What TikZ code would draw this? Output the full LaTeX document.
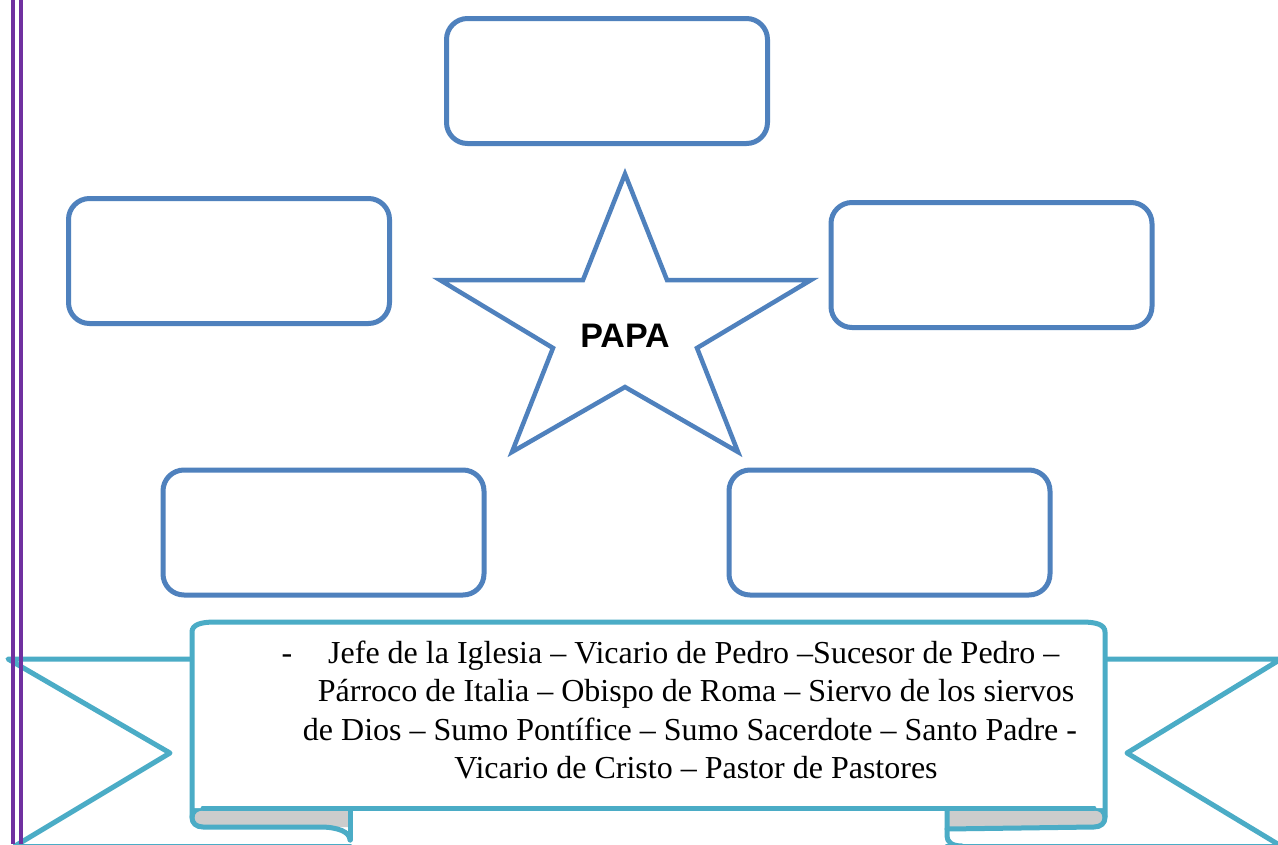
\documentclass[tikz,border=0pt]{standalone}
\usepackage{fontspec}
\setmainfont{Liberation Serif}
\newfontfamily\arialfont{Liberation Sans}
\definecolor{boxblue}{HTML}{4F81BD}
\definecolor{ribteal}{HTML}{4BACC6}
\definecolor{margpurple}{HTML}{7030A0}
\definecolor{foldgray}{HTML}{CCCCCC}
\begin{document}
\begin{tikzpicture}[x=1pt,y=-1pt,
  emptybox/.style={draw=boxblue, line width=5pt, rounded corners=21pt, fill=white,
    minimum width=321pt, minimum height=125pt, inner sep=0pt},
  rib/.style={draw=ribteal, line width=5pt, line cap=round, line join=round},
  startext/.style={font=\arialfont\bfseries\fontsize{34}{40}\selectfont},
  ribtext/.style={font=\fontsize{32}{38}\selectfont, anchor=base, inner sep=0pt}
]
\useasboundingbox (0,0) rectangle (1278,844);
\fill[white] (0,0) rectangle (1278,844);

% boxes
\node[emptybox] (top) at (607,81) {};
\node[emptybox] (left) at (229,261) {};
\node[emptybox] (right) at (991.5,265) {};
\node[emptybox] (botleft) at (323.5,532.5) {};
\node[emptybox] (botright) at (889.5,532.5) {};

% star
\draw[draw=boxblue, line width=4.5pt, line join=miter, fill=white]
  (625,174) -- (667,280) -- (811,280) -- (697,348) -- (738,452) -- (625,387)
  -- (512,452) -- (553,348) -- (440,280) -- (583,280) -- cycle;
\node[startext] (papa) at (625,336) {PAPA};

% ribbon ends
\draw[rib] (15,846) -- (350,846);
\draw[rib] (947,846) -- (1281,846);
\draw[rib] (192,659) -- (8,659) -- (170,753) -- (15,846);
\draw[rib] (1105,659) -- (1281,659) -- (1127,753) -- (1281,846);

% left fold
\fill[foldgray] (350,808) -- (203,808) .. controls (196,808) and (192,812) .. (192,817.5)
  .. controls (192,823) and (196,827) .. (203,827) -- (350,827) -- cycle;
\draw[rib] (350,808) -- (350,840);
\draw[rib] (203,808) .. controls (196,808) and (192,812) .. (192,817.5)
  .. controls (192,823) and (196,827) .. (203,827) -- (320,827)
  .. controls (338,827) and (350,832) .. (350,840);

% right fold
\fill[foldgray] (947,808) -- (1094,808) .. controls (1101,808) and (1105,812) .. (1105,817.5)
  .. controls (1105,823) and (1101,827) .. (1094,827) -- (947,829) -- cycle;
\draw[rib] (947,808) -- (947,836) .. controls (947,842) and (952,846) .. (962,846);
\draw[rib] (1094,808) .. controls (1101,808) and (1105,812) .. (1105,817.5)
  .. controls (1105,823) and (1101,827) .. (1094,827) -- (947,829);

% central panel
\fill[white] (192,808) -- (192,632) .. controls (192,625) and (200,622) .. (215,622)
  -- (1082,622) .. controls (1097,622) and (1105,625) .. (1105,632) -- (1105,808) -- cycle;
\draw[rib] (192,817) -- (192,632) .. controls (192,625) and (200,622) .. (215,622)
  -- (1082,622) .. controls (1097,622) and (1105,625) .. (1105,632) -- (1105,817);
\draw[rib] (203,808) -- (1094,808);

% ribbon text
\node[ribtext] (dash) at (287,663) {-};
\node[ribtext, anchor=base west] (l1) at (328,663) {Jefe de la Iglesia – Vicario de Pedro –Sucesor de Pedro –};
\node[ribtext] (l2) at (696,701) {Párroco de Italia – Obispo de Roma – Siervo de los siervos};
\node[ribtext] (l3) at (690,740) {de Dios – Sumo Pontífice – Sumo Sacerdote – Santo Padre -};
\node[ribtext] (l4) at (696,778) {Vicario de Cristo – Pastor de Pastores};

% margin lines
\draw[margpurple, line width=4.5pt] (13,0) -- (13,844);
\draw[margpurple, line width=4.5pt] (21,0) -- (21,844);
\end{tikzpicture}
\end{document}
